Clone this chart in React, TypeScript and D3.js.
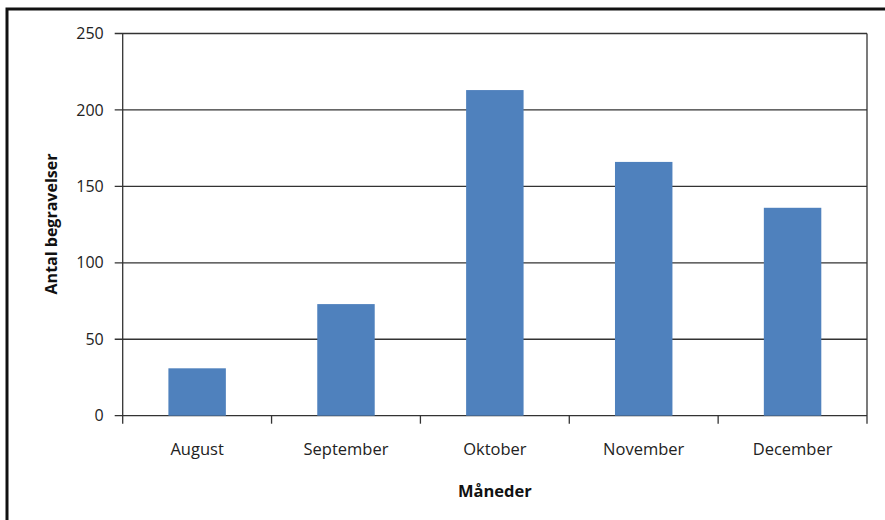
import React from "react";
import * as d3 from "d3";

const months = ["August", "September", "Oktober", "November", "December"];
const burials = [31, 73, 213, 166, 136];
const yTicks = [0, 50, 100, 150, 200, 250];

const W = 885;
const H = 520;
const margin = { top: 33.5, right: 18, bottom: 104.3, left: 122.7 };
const FONT = "'Open Sans', 'Noto Sans', sans-serif";

export default function App() {
  const width = W - margin.left - margin.right;
  const height = H - margin.top - margin.bottom;

  const x = d3.scaleBand().domain(months).range([0, width]).paddingInner(0.614).paddingOuter(0.307);
  const xBounds = d3.scaleLinear().domain([0, months.length]).range([0, width]);
  const y = d3.scaleLinear().domain([0, 250]).range([height, 0]);

  return (
    <svg width={W} height={H} style={{ position: "absolute", left: 0, top: 0, background: "#fff" }}>
      <rect x={7} y={9} width={W + 10} height={H + 10} fill="none" stroke="#111" strokeWidth={3} />
      <g transform={`translate(${margin.left},${margin.top})`}>
        {yTicks.map((t) => (
          <g key={t}>
            <line x1={-8} x2={width} y1={y(t)} y2={y(t)} stroke="#333" strokeWidth={1.3} />
            <text x={-19} y={y(t)} dy="0.35em" textAnchor="end" fontFamily={FONT} fontSize={16} fill="#222">
              {t}
            </text>
          </g>
        ))}
        {burials.map((v, i) => (
          <rect
            key={months[i]}
            x={x(months[i])}
            y={y(v)}
            width={x.bandwidth()}
            height={y(0) - y(v)}
            fill="#4f81bd"
          />
        ))}
        <line x1={0} x2={0} y1={0} y2={height + 8} stroke="#333" strokeWidth={1.3} />
        <line x1={width} x2={width} y1={0} y2={height + 8} stroke="#333" strokeWidth={1.3} />
        {d3.range(1, months.length).map((i) => (
          <line key={i} x1={xBounds(i)} x2={xBounds(i)} y1={height} y2={height + 8} stroke="#333" strokeWidth={1.3} />
        ))}
        {months.map((m) => (
          <text
            key={m}
            x={(x(m) as number) + x.bandwidth() / 2}
            y={height + 39}
            textAnchor="middle"
            fontFamily={FONT}
            fontSize={16.5}
            fill="#222"
          >
            {m}
          </text>
        ))}
        <text
          x={width / 2}
          y={height + 81}
          textAnchor="middle"
          fontFamily={FONT}
          fontSize={16.5}
          fontWeight="bold"
          fill="#111"
        >
          Måneder
        </text>
      </g>
      <text
        transform="translate(51,224) rotate(-90)"
        textAnchor="middle"
        dy="0.35em"
        fontFamily={FONT}
        fontSize={16}
        fontWeight="bold"
        fill="#111"
      >
        Antal begravelser
      </text>
    </svg>
  );
}
